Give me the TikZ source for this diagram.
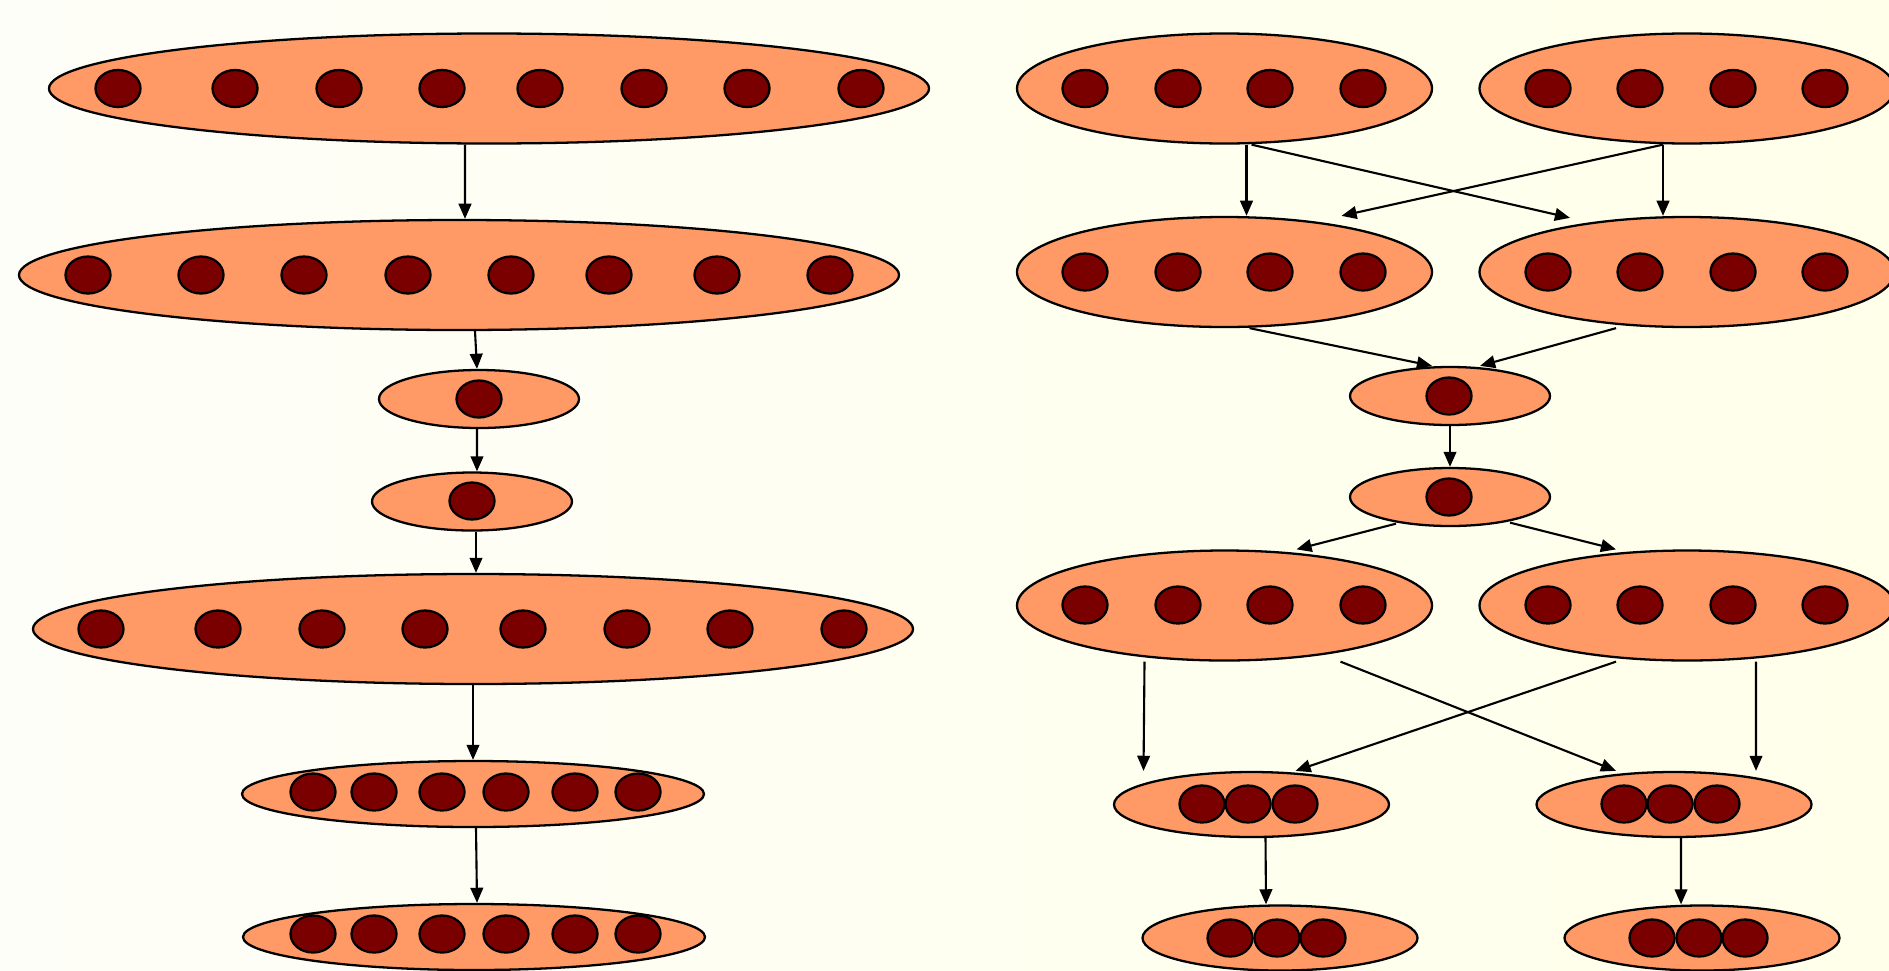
\documentclass[tikz,border=0pt]{standalone}
\usepackage{tikz}
\usetikzlibrary{shapes.geometric,arrows.meta}
\definecolor{layerfill}{HTML}{FF9966}
\definecolor{unitred}{HTML}{7A0000}
\definecolor{bgleft}{HTML}{FEFEF8}
\definecolor{bgright}{HTML}{FFFFEA}

\begin{document}
\begin{tikzpicture}[
    layer/.style={ellipse, draw, fill=layerfill, line width=0.65pt, inner sep=0pt},
    wide/.style={layer, minimum width=8.80cm, minimum height=1.10cm},
    half/.style={layer, minimum width=4.15cm, minimum height=1.10cm},
    mid/.style={layer, minimum width=4.62cm, minimum height=0.66cm},
    small/.style={layer, minimum width=2.75cm, minimum height=0.65cm},
    single/.style={layer, minimum width=2.00cm, minimum height=0.58cm},
    unit/.style={ellipse, draw, fill=unitred, line width=0.65pt, inner sep=0pt, minimum width=0.45cm, minimum height=0.37cm},
    edge/.style={-{Triangle[length=4.3pt,width=3.6pt]}, line width=0.6pt}]
    % Background:
    \useasboundingbox (0, 0) rectangle (18.89, -9.70);
    \shade[left color=bgleft, right color=bgright] (0, 0) rectangle (18.89, -9.70);
    \clip (0, 0) rectangle (18.89, -9.70);
    % Left column:
    \node[wide](L1) at (4.89, -0.885){};
    \node[wide](L2) at (4.59, -2.75){};
    \node[single](L3) at (4.79, -3.99){};
    \node[single](L4) at (4.72, -5.015){};
    \node[wide](L5) at (4.73, -6.29){};
    \node[mid](L6) at (4.73, -7.94){};
    \node[mid](L7) at (4.74, -9.37){};
    \node[unit](L1a) at (1.18, -0.885){} node[unit](L1b) at (2.35, -0.885){} node[unit](L1c) at (3.39, -0.885){} node[unit](L1d) at (4.42, -0.885){} node[unit](L1e) at (5.40, -0.885){} node[unit](L1f) at (6.44, -0.885){} node[unit](L1g) at (7.47, -0.885){} node[unit](L1h) at (8.61, -0.885){};
    \node[unit](L2a) at (0.88, -2.75){} node[unit](L2b) at (2.01, -2.75){} node[unit](L2c) at (3.04, -2.75){} node[unit](L2d) at (4.08, -2.75){} node[unit](L2e) at (5.11, -2.75){} node[unit](L2f) at (6.09, -2.75){} node[unit](L2g) at (7.17, -2.75){} node[unit](L2h) at (8.30, -2.75){};
    \node[unit](L3a) at (4.79, -3.99){};
    \node[unit](L4a) at (4.72, -5.01){};
    \node[unit](L5a) at (1.01, -6.29){} node[unit](L5b) at (2.18, -6.29){} node[unit](L5c) at (3.22, -6.29){} node[unit](L5d) at (4.25, -6.29){} node[unit](L5e) at (5.23, -6.29){} node[unit](L5f) at (6.27, -6.29){} node[unit](L5g) at (7.30, -6.29){} node[unit](L5h) at (8.44, -6.29){};
    \node[unit](L6a) at (3.13, -7.92){} node[unit](L6b) at (3.74, -7.92){} node[unit](L6c) at (4.42, -7.92){} node[unit](L6d) at (5.06, -7.92){} node[unit](L6e) at (5.75, -7.92){} node[unit](L6f) at (6.38, -7.92){};
    \node[unit](L7a) at (3.13, -9.34){} node[unit](L7b) at (3.74, -9.34){} node[unit](L7c) at (4.42, -9.34){} node[unit](L7d) at (5.06, -9.34){} node[unit](L7e) at (5.75, -9.34){} node[unit](L7f) at (6.38, -9.34){};
    \draw[edge] ([xshift=-0.24cm]L1.south) -- ([xshift=0.06cm]L2.north);
    \draw[edge] ([xshift=0.16cm]L2.south) -- ([xshift=-0.02cm]L3.north);
    \draw[edge] ([xshift=-0.02cm]L3.south) -- ([xshift=0.05cm]L4.north);
    \draw[edge] ([xshift=0.04cm]L4.south) -- ([xshift=0.03cm]L5.north);
    \draw[edge] (L5.south) -- (L6.north);
    \draw[edge] ([xshift=0.03cm]L6.south) -- ([xshift=0.03cm]L7.north);
    % Right column:
    \node[half](R1a) at (12.245, -0.885){};
    \node[half](R1b) at (16.87, -0.885){};
    \node[half](R2a) at (12.245, -2.72){};
    \node[half](R2b) at (16.87, -2.72){};
    \node[single](R3) at (14.50, -3.96){};
    \node[single](R4) at (14.50, -4.97){};
    \node[half](R5a) at (12.245, -6.055){};
    \node[half](R5b) at (16.87, -6.055){};
    \node[small](R6a) at (12.515, -8.045){};
    \node[small](R6b) at (16.74, -8.045){};
    \node[small](R7a) at (12.80, -9.38){};
    \node[small](R7b) at (17.02, -9.38){};
    \node[unit](R1a1) at (10.85, -0.885){} node[unit](R1a2) at (11.78, -0.885){} node[unit](R1a3) at (12.70, -0.885){} node[unit](R1a4) at (13.63, -0.885){};
    \node[unit](R1b1) at (15.48, -0.885){} node[unit](R1b2) at (16.40, -0.885){} node[unit](R1b3) at (17.33, -0.885){} node[unit](R1b4) at (18.25, -0.885){};
    \node[unit](R2a1) at (10.85, -2.72){} node[unit](R2a2) at (11.78, -2.72){} node[unit](R2a3) at (12.70, -2.72){} node[unit](R2a4) at (13.63, -2.72){};
    \node[unit](R2b1) at (15.48, -2.72){} node[unit](R2b2) at (16.40, -2.72){} node[unit](R2b3) at (17.33, -2.72){} node[unit](R2b4) at (18.25, -2.72){};
    \node[unit](R3a) at (14.49, -3.96){};
    \node[unit](R4a) at (14.49, -4.97){};
    \node[unit](R5a1) at (10.85, -6.05){} node[unit](R5a2) at (11.78, -6.05){} node[unit](R5a3) at (12.70, -6.05){} node[unit](R5a4) at (13.63, -6.05){};
    \node[unit](R5b1) at (15.48, -6.05){} node[unit](R5b2) at (16.40, -6.05){} node[unit](R5b3) at (17.33, -6.05){} node[unit](R5b4) at (18.25, -6.05){};
    \node[unit](R6a1) at (12.02, -8.04){} node[unit](R6a2) at (12.48, -8.04){} node[unit](R6a3) at (12.95, -8.04){};
    \node[unit](R6b1) at (16.24, -8.04){} node[unit](R6b2) at (16.70, -8.04){} node[unit](R6b3) at (17.17, -8.04){};
    \node[unit](R7a1) at (12.30, -9.38){} node[unit](R7a2) at (12.77, -9.38){} node[unit](R7a3) at (13.23, -9.38){};
    \node[unit](R7b1) at (16.52, -9.38){} node[unit](R7b2) at (16.99, -9.38){} node[unit](R7b3) at (17.45, -9.38){};
    \draw[edge] ([xshift=0.22cm]R1a.south) -- ([xshift=0.22cm]R2a.north);
    \draw[edge] ([xshift=0.27cm]R1a.south) -- ([xshift=-1.17cm, yshift=-0.02cm]R2b.north);
    \draw[edge] ([xshift=-0.24cm]R1b.south) -- ([xshift=1.17cm]R2a.north);
    \draw[edge] ([xshift=-0.24cm]R1b.south) -- ([xshift=-0.24cm]R2b.north);
    \draw[edge] ([xshift=0.25cm]R2a.south) -- ([xshift=-0.18cm]R3.north);
    \draw[edge] ([xshift=-0.71cm]R2b.south) -- ([xshift=0.30cm]R3.north);
    \draw[edge] (R3.south) -- (R4.north);
    \draw[edge] ([xshift=-0.54cm, yshift=0.035cm]R4.south) -- ([xshift=0.72cm]R5a.north);
    \draw[edge] ([xshift=0.60cm, yshift=0.045cm]R4.south) -- ([xshift=-0.71cm]R5b.north);
    \draw[edge] ([xshift=-0.80cm]R5a.south) -- ([xshift=-1.08cm]R6a.north);
    \draw[edge] ([xshift=1.16cm]R5a.south) -- ([xshift=-0.58cm]R6b.north);
    \draw[edge] ([xshift=-0.71cm]R5b.south) -- ([xshift=0.44cm]R6a.north);
    \draw[edge] ([xshift=0.69cm]R5b.south) -- ([xshift=0.82cm]R6b.north);
    \draw[edge] ([xshift=0.14cm]R6a.south) -- ([xshift=-0.14cm]R7a.north);
    \draw[edge] ([xshift=0.07cm]R6b.south) -- ([xshift=-0.21cm]R7b.north);
\end{tikzpicture}
\end{document}
